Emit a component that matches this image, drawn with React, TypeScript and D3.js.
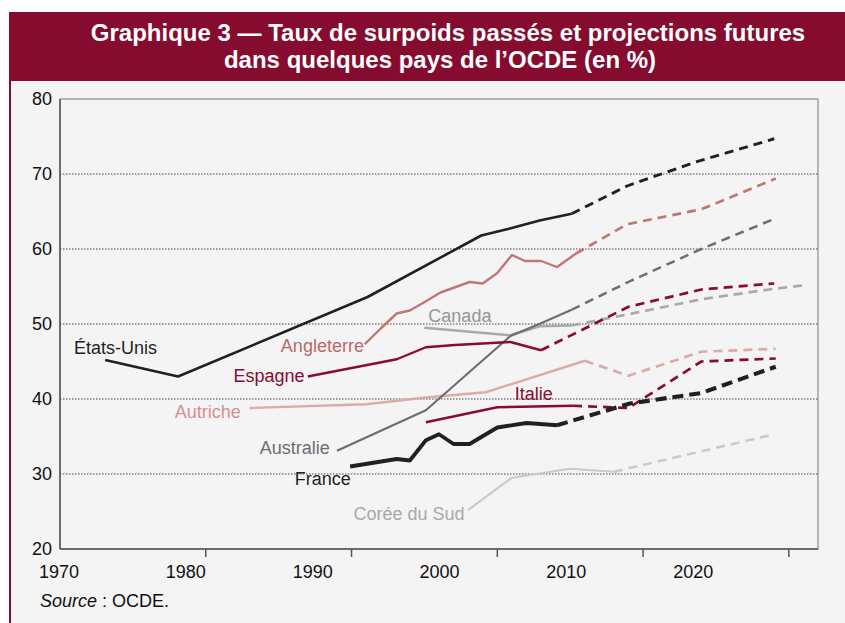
import React from 'react';
import * as d3 from 'd3';

// Taux de surpoids (%) : [année, valeur] — observés puis projections
const usHist = [[1973.1, 45.2], [1978.1, 43.0], [1991.1, 53.6], [1998.9, 61.8], [2000.8, 62.7], [2002.9, 63.8], [2005.1, 64.7]];
const usProj = [[2005.1, 64.7], [2008.9, 68.4], [2013.6, 71.6], [2019.0, 74.7]];
const englandHist = [[1990.9, 47.3], [1992.0, 49.4], [1993.1, 51.4], [1994.0, 51.8], [1994.9, 52.8], [1996.1, 54.2], [1997.1, 54.9], [1998.1, 55.6], [1999.0, 55.4], [2000.0, 56.8], [2001.0, 59.2], [2001.9, 58.4], [2003.0, 58.4], [2004.1, 57.6], [2005.4, 59.4]];
const englandProj = [[2005.4, 59.4], [2008.9, 63.3], [2014.0, 65.3], [2019.1, 69.4]];
const canadaHist = [[1995.0, 49.5], [2000.9, 48.5], [2002.9, 49.7], [2005.1, 49.8]];
const canadaProj = [[2005.1, 49.8], [2009.0, 51.3], [2014.0, 53.3], [2019.0, 54.7], [2021.2, 55.2]];
const australiaHist = [[1989.0, 33.1], [1995.1, 38.5], [2000.9, 48.4], [2003.0, 50.1], [2005.1, 51.9]];
const australiaProj = [[2005.1, 51.9], [2009.2, 55.8], [2014.0, 60.0], [2019.1, 64.1]];
const spainHist = [[1987.0, 43.0], [1993.1, 45.3], [1995.1, 46.9], [1997.1, 47.2], [2000.9, 47.6], [2003.0, 46.5]];
const spainProj = [[2003.0, 46.5], [2009.0, 52.3], [2014.0, 54.6], [2019.0, 55.4]];
const austriaHist = [[1983.0, 38.8], [1991.0, 39.3], [1995.1, 40.2], [1999.2, 40.9], [2006.0, 45.1]];
const austriaProj = [[2006.0, 45.1], [2009.0, 43.1], [2014.0, 46.3], [2019.1, 46.7]];
const italyHist = [[1995.1, 36.9], [2000.0, 38.9], [2005.2, 39.1]];
const italyProj = [[2005.2, 39.1], [2009.0, 38.8], [2014.0, 45.0], [2019.1, 45.4]];
const franceHist = [[1989.9, 31.0], [1993.1, 32.0], [1994.0, 31.8], [1995.1, 34.5], [1996.0, 35.3], [1997.0, 34.0], [1998.1, 34.0], [2000.0, 36.2], [2002.0, 36.8], [2004.1, 36.5]];
const franceProj = [[2004.1, 36.5], [2009.1, 39.4], [2014.0, 40.8], [2019.1, 44.3]];
const koreaHist = [[1998.0, 25.2], [2001.0, 29.5], [2005.0, 30.7], [2008.0, 30.3]];
const koreaProj = [[2008.0, 30.3], [2019.0, 35.3]];

const yTicks = [20, 30, 40, 50, 60, 70, 80];
const gridValues = [30, 40, 50, 60, 70];
const tickYears = [1980, 1990, 2000, 2010, 2020];
const yearLabels = [1970, 1980, 1990, 2000, 2010, 2020];

// étiquettes des pays, placées dans le repère du graphique
const countryLabels = [
  { text: 'États-Unis', year: 1970.96, value: 46.85, anchor: 'start', color: '#231f20' },
  { text: 'Angleterre', year: 1990.85, value: 47.1, anchor: 'end', color: '#b86b6b' },
  { text: 'Espagne', year: 1986.77, value: 43.15, anchor: 'end', color: '#8a0b30' },
  { text: 'Autriche', year: 1982.4, value: 38.27, anchor: 'end', color: '#d4908e' },
  { text: 'Canada', year: 1995.27, value: 51.08, anchor: 'start', color: '#939598' },
  { text: 'Italie', year: 2001.2, value: 40.76, anchor: 'start', color: '#8a0b30' },
  { text: 'Australie', year: 1988.5, value: 33.49, anchor: 'end', color: '#6d6e71' },
  { text: 'France', year: 1986.1, value: 29.37, anchor: 'start', color: '#231f20' },
  { text: 'Corée du Sud', year: 1997.75, value: 24.7, anchor: 'end', color: '#a7a9ac' },
];

const series = [
  { hist: koreaHist, proj: koreaProj, color: '#c9cacc', width: 2.2 },
  { hist: austriaHist, proj: austriaProj, color: '#dcaaa8', width: 2.4 },
  { hist: canadaHist, proj: canadaProj, color: '#a7a9ac', width: 2.4 },
  { hist: australiaHist, proj: australiaProj, color: '#6d6e71', width: 2.2 },
  { hist: englandHist, proj: englandProj, color: '#c27674', width: 2.4 },
  { hist: spainHist, proj: spainProj, color: '#8a0b30', width: 2.4 },
  { hist: italyHist, proj: italyProj, color: '#8a0b30', width: 2.4 },
  { hist: usHist, proj: usProj, color: '#231f20', width: 2.6 },
  { hist: franceHist, proj: franceProj, color: '#231f20', width: 3.8 },
];

const FONT = '"Liberation Sans", Arial, sans-serif';

export default function App() {
  const x = d3.scaleLinear().domain([1970, 2022]).range([60, 818]);
  const labelX = d3.scaleLinear().domain([1970, 2030]).range([59, 820]);
  const y = d3.scaleLinear().domain([20, 80]).range([549, 99]);
  const line = d3.line<number[]>().x(d => x(d[0])).y(d => y(d[1]));

  return (
    <svg width={845} height={623} style={{ position: 'absolute', left: 0, top: 0 }} fontFamily={FONT}>
      <rect x={0} y={0} width={845} height={623} fill="#fff" />
      <rect x={10} y={81} width={835} height={542} fill="#f4f4f4" />
      <line x1={10} x2={10} y1={12} y2={623} stroke="#850c2e" strokeWidth={2} />
      <rect x={9} y={12} width={836} height={69} fill="#850c2e" />
      <text x={448} y={41} textAnchor="middle" fill="#fff" fontWeight="bold" fontSize={24}>
        Graphique 3 — Taux de surpoids passés et projections futures
      </text>
      <text x={440} y={68} textAnchor="middle" fill="#fff" fontWeight="bold" fontSize={24}>
        dans quelques pays de l’OCDE (en %)
      </text>

      {/* cadre et grille */}
      <rect x={x(1970)} y={y(80)} width={x(2022) - x(1970)} height={y(20) - y(80)} fill="none" stroke="#777" strokeWidth={1} />
      {gridValues.map(v => (
        <line key={v} x1={x(1970)} x2={x(2022)} y1={y(v)} y2={y(v)} stroke="#444" strokeWidth={1} strokeDasharray="1.5,1.5" />
      ))}
      <line x1={x(1970)} x2={x(1970)} y1={y(80)} y2={y(20)} stroke="#555" strokeWidth={1.5} />
      <line x1={x(1970)} x2={x(2022)} y1={y(20)} y2={y(20)} stroke="#555" strokeWidth={1.5} />
      {tickYears.map(t => (
        <line key={t} x1={x(t)} x2={x(t)} y1={y(20)} y2={y(20) + 8} stroke="#555" strokeWidth={1.5} />
      ))}
      {yTicks.map(v => (
        <text key={v} x={52} y={y(v)} dy="0.35em" textAnchor="end" fontSize={18} fill="#111">{v}</text>
      ))}
      {yearLabels.map(t => (
        <text key={t} x={labelX(t)} y={578} textAnchor="middle" fontSize={18} fill="#111">{t}</text>
      ))}

      {/* courbes */}
      {series.map((s, i) => (
        <g key={i} fill="none" stroke={s.color} strokeLinejoin="round">
          <path d={line(s.hist) || ''} strokeWidth={s.width} />
          <path d={line(s.proj) || ''} strokeWidth={s.width + 0.3} strokeDasharray={s.width > 3 ? '11,6' : '9,6'} />
        </g>
      ))}

      {countryLabels.map(l => (
        <text key={l.text} x={x(l.year)} y={y(l.value)} dy="0.35em" textAnchor={l.anchor} fontSize={18} fill={l.color}>
          {l.text}
        </text>
      ))}

      <text x={40} y={607} fontSize={18} fill="#111">
        <tspan fontStyle="italic">Source</tspan> : OCDE.
      </text>
    </svg>
  );
}
